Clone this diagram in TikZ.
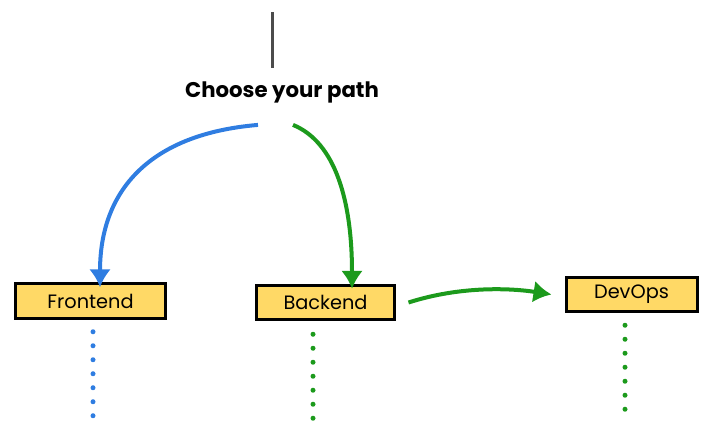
\documentclass[tikz,border=0pt]{standalone}
\usepackage{fontspec}
\setmainfont{Poppins}
\usetikzlibrary{arrows.meta,calc}

\definecolor{pathblue}{HTML}{2F7DE1}
\definecolor{pathgreen}{HTML}{1C9A1C}
\definecolor{boxyellow}{HTML}{FFD966}

\tikzset{
  pathbox/.style={draw=black, line width=0.06cm, fill=boxyellow,
    minimum height=0.69cm, inner sep=0pt, font=\fontsize{11}{13}\selectfont},
  pathline/.style={line width=0.08cm, -{Latex[length=0.36cm,width=0.44cm]}},
  dotline/.style={line width=0.1cm, line cap=round, dash pattern=on 0pt off 0.28cm}
}

\begin{document}
\begin{tikzpicture}[x=0.02cm, y=-0.02cm]
  \useasboundingbox (0,0) rectangle (702,433);

  \coordinate (top) at (272,12);
  \coordinate (topend) at (272,68);
  \draw[line width=0.06cm, black!70] (top) -- (topend);

  \node[font=\fontsize{12.1}{15}\selectfont\bfseries] (choose) at (282,92) {Choose your path};

  \node[pathbox, minimum width=3.02cm] (fe) at (90.5,301) {Frontend};
  \node[pathbox, minimum width=2.78cm] (be) at (325.5,302.5) {Backend};
  \node[pathbox, minimum width=2.62cm] (ops) at (631.5,294.5) {DevOps};

  % choices
  \draw[pathline, pathblue] ($(choose.south)+(-24,16)$)
    .. controls (150,134) and (100,190) .. ([yshift=-0.1cm]fe.north -| 100,0);
  \draw[pathline, pathgreen] ($(choose.south)+(11,16)$)
    .. controls (335,142) and (352,200) .. ([yshift=-0.1cm]be.north -| 352,0);
  \draw[pathline, pathgreen] ([xshift=0.24cm,yshift=0cm]be.east)
    .. controls (460,286) and (510,288) .. ([xshift=-0.26cm]ops.west);

  % roads ahead
  \coordinate (feend) at (93,428);
  \coordinate (beend) at (313,430);
  \coordinate (opsend) at (625,410);
  \draw[dotline, pathblue] (fe.south -| feend) ++(0,12) -- (feend);
  \draw[dotline, pathgreen] (be.south -| beend) ++(0,13) -- (beend);
  \draw[dotline, pathgreen] (ops.south -| opsend) ++(0,12) -- (opsend);
\end{tikzpicture}
\end{document}
